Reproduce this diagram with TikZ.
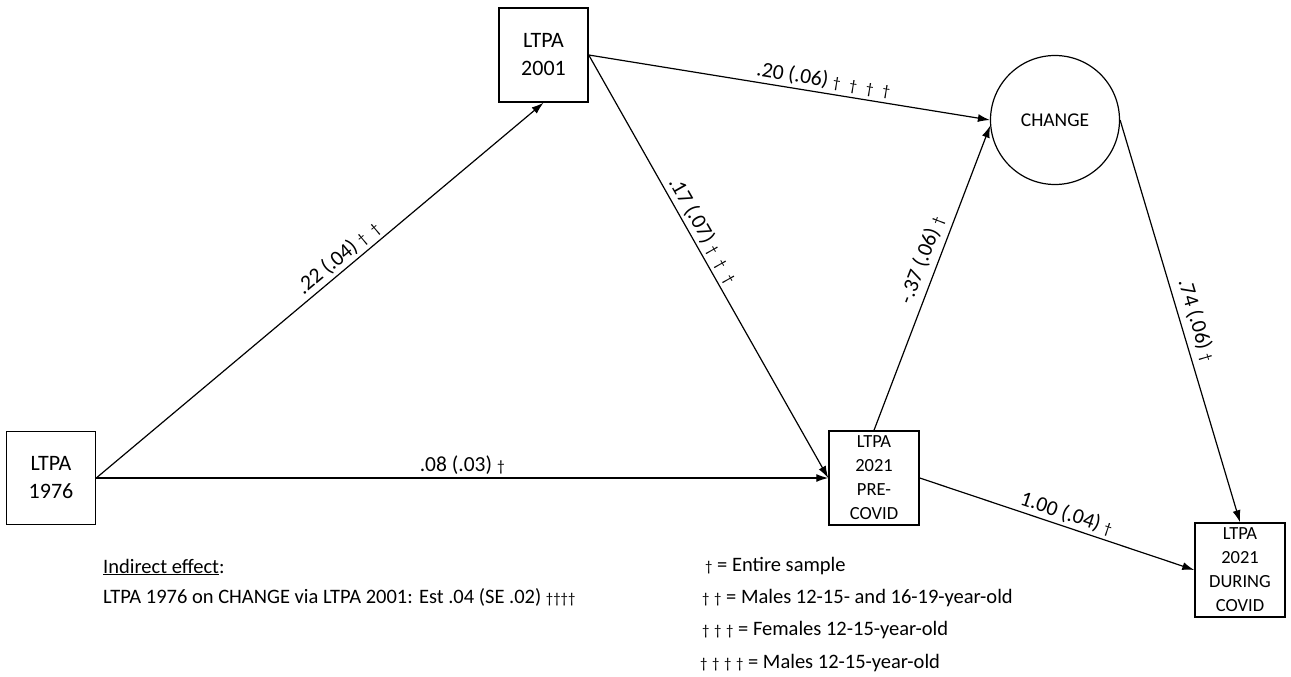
\documentclass[tikz,border=0pt]{standalone}
\usepackage{fontspec}
\setmainfont{Carlito}
\usepackage{graphicx}
\usepackage{tikz}
\usetikzlibrary{arrows.meta, positioning, shapes.geometric}
\newcommand{\dgr}{\scalebox{0.72}{†}}
\newcommand{\dgap}{\hspace{9pt}}
\tikzstyle{varbox} = [rectangle, draw=black, line width=1.5pt, minimum width=89pt, minimum height=93pt, inner sep=0pt, align=center, font=\fontsize{22pt}{28pt}\selectfont]
\tikzstyle{outbox} = [varbox, minimum width=90pt, minimum height=94pt, font=\fontsize{18.5pt}{24pt}\selectfont]
\tikzstyle{latent} = [circle, draw=black, line width=1.2pt, minimum size=129pt, inner sep=0pt, font=\fontsize{19.5pt}{24pt}\selectfont]
\tikzstyle{arrow} = [line width=1.2pt, -{Latex[length=12pt,width=8pt]}]
\tikzstyle{coef} = [sloped, above, inner sep=3pt, font=\fontsize{21.5pt}{24pt}\selectfont]
\tikzstyle{note} = [anchor=west, inner sep=0pt, font=\fontsize{20.5pt}{22pt}\selectfont]

\begin{document}
\begin{tikzpicture}[x=1pt, y=-1pt]
    \useasboundingbox (0,0) rectangle (1291,677);

    % Measured LTPA
    \node (ltpa76) [varbox] at (51,478) {LTPA\\1976};
    \node (ltpa01) [varbox, minimum height=94pt] at (543.5,55) {LTPA\\2001};
    \node (pre) [outbox] at (874,478) {LTPA\\2021\\PRE-\\COVID};
    \node (during) [outbox] at (1240,570) {LTPA\\2021\\DURING\\COVID};

    % Latent change
    \node (change) [latent] at (1055,120) {CHANGE};

    % Paths
    \draw [arrow] (ltpa76.east) -- node[coef, pos=0.56] {.22 (.04) \dgr\dgap\dgr} (ltpa01.south);
    \draw [arrow] (ltpa76.east) -- node[coef, midway] {.08 (.03) \dgr} (pre.west);
    \draw [arrow] (ltpa01.east) -- node[coef, pos=0.43] {.17 (.07) \dgr\dgap\dgr\dgap\dgr} (pre.west);
    \draw [arrow] (ltpa01.east) -- node[coef, pos=0.58] {.20 (.06) \dgr\dgap\dgr\dgap\dgr\dgap\dgr} (change.west);
    \draw [arrow] (pre.north) -- node[coef, pos=0.54, inner sep=6pt] {-.37 (.06) \dgr} (change.185);
    \draw [arrow] (change.east) -- node[coef, pos=0.51, inner sep=6pt] {.74 (.06) \dgr} (during.north);
    \draw [arrow] (pre.east) -- node[coef, pos=0.52] {1.00 (.04) \dgr} (during.west);

    % Indirect effect
    \node (indtitle) [note] at (103,567) {\underline{Indirect effect}:};
    \node (indtext) [note] at (103,597) {LTPA 1976 on CHANGE via LTPA 2001: Est .04 (SE .02) \dgr\dgr\dgr\dgr};

    % Legend
    \node (leg1) [note] at (705,566) {\dgr\ = Entire sample};
    \node (leg2) [note] at (702,598) {\dgr\ \dgr\ = Males 12-15- and 16-19-year-old};
    \node (leg3) [note] at (702,630) {\dgr\ \dgr\ \dgr\ = Females 12-15-year-old};
    \node (leg4) [note] at (700,663) {\dgr\ \dgr\ \dgr\ \dgr\ = Males 12-15-year-old};
\end{tikzpicture}
\end{document}
